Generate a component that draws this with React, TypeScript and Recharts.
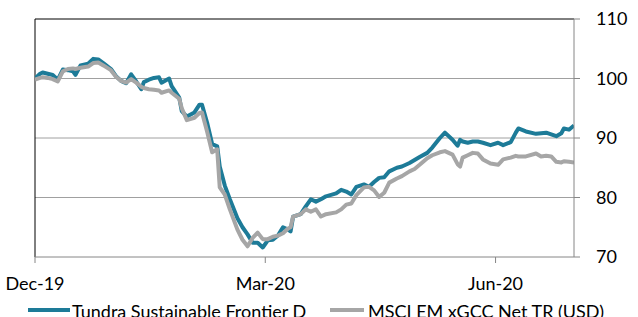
import React from 'react';
import { LineChart, Line, XAxis, YAxis, CartesianGrid, ReferenceLine } from 'recharts';

// days since 31 Dec 2019
const days = [
  0, 2, 3, 5, 7, 9, 11, 13, 15, 16, 18, 21, 23, 25, 27, 30, 32, 34, 36, 38,
  40, 42, 43, 45, 47, 49, 50, 53, 54, 57, 58, 60, 63, 65, 66, 68, 70, 72, 73, 75,
  77, 80, 82, 84, 86, 88, 90, 92, 94, 96, 98, 100, 101, 102, 105, 107, 109, 111, 113, 115,
  119, 121, 123, 125, 127, 130, 132, 134, 136, 138, 140, 143, 145, 148, 150, 152, 155, 157, 160, 162,
  165, 167, 168, 169, 171, 173, 175, 177, 180, 183, 185, 188, 190, 191, 194, 198, 200, 202, 204, 206,
  208, 209, 211, 213,
];

const tundra = [
  100, 100.8, 101, 100.8, 100.6, 99.8, 101.5, 101.4, 101.2, 100.6, 102.2, 102.5, 103.3, 103.2, 102.6, 101.6, 100.4, 99.6, 99.2, 100.7,
  99.5, 98.2, 99.4, 99.8, 100.1, 100.2, 99.3, 100, 98.7, 96.8, 94.5, 93.6, 94.3, 95.6, 95.6, 92.6, 89, 88.6, 85.2, 82,
  79.7, 76.5, 75, 73.8, 72.4, 72.4, 71.6, 72.8, 72.9, 73.6, 75, 74.6, 74.3, 76.8, 77.2, 78.5, 79.7, 79.3, 79.7, 80.2,
  80.7, 81.3, 81, 80.5, 81.8, 82.2, 81.8, 82.6, 83.3, 83.4, 84.4, 85, 85.2, 85.8, 86.3, 86.8, 87.5, 88.4, 90, 90.9,
  89.7, 88.7, 89.7, 89.4, 89.2, 89.4, 89.4, 89.2, 88.8, 89.2, 88.8, 89.3, 90.9, 91.6, 91.1, 90.7, 90.8, 90.9, 90.6, 90.3,
  90.8, 91.6, 91.4, 92.1,
];

const msci = [
  99.8, 100.1, 100.2, 100.1, 99.9, 99.5, 101.2, 101.6, 101.7, 101.6, 101.8, 102, 102.6, 102.7, 102.2, 101.4, 100.3, 99.6, 99.3, 99.9,
  99.3, 98.6, 98.4, 98.2, 98.1, 98, 97.6, 98, 97.6, 96.6, 95, 93, 93.4, 94.2, 94.3, 91.1, 87.6, 88.1, 81.7, 80.5,
  78, 74.6, 72.9, 71.8, 73.2, 74.1, 73, 73, 73.4, 73.6, 74, 74.8, 75, 76.8, 77.2, 78, 77.6, 78, 76.8, 77.2,
  77.5, 78, 78.8, 79, 80.4, 81.7, 81.8, 81.2, 80.1, 80.8, 82.5, 83.2, 83.6, 84.4, 84.8, 85.5, 86.6, 87.1, 87.6, 87.8,
  87.2, 85.6, 85.2, 86.7, 87.1, 87.5, 87.4, 86.4, 85.7, 85.5, 86.4, 86.7, 87, 86.9, 86.9, 87.4, 86.9, 87, 86.9, 86,
  85.9, 86.1, 86, 85.9,
];

const xTicks = [0, 91, 182];
const xTickLabels = ['Dec-19', 'Mar-20', 'Jun-20'];
const yTicks = [70, 80, 90, 100, 110];

const seriesNames = ['Tundra Sustainable Frontier D', 'MSCI EM xGCC Net TR (USD)'];
const TEAL = '#1d7b98';
const GREY = '#a6a6a6';
const FONT = 'Lato, "Open Sans", sans-serif';

const data = days.map((d, i) => ({ d, tundra: tundra[i], msci: msci[i] }));

export default function App() {
  return (
    <div style={{ position: 'absolute', left: 0, top: 0, width: 638, height: 317, overflow: 'hidden', background: '#fff', fontFamily: FONT }}>
      <LineChart width={638} height={317} data={data} margin={{ top: 19, right: 4, left: 35, bottom: 0 }}>
        <CartesianGrid horizontal vertical={false} stroke="#a0a0a0" horizontalValues={[80, 90, 100]} />
        <XAxis
          type="number"
          dataKey="d"
          domain={[0, 213]}
          ticks={xTicks}
          tickFormatter={(v: number) => xTickLabels[xTicks.indexOf(v)]}
          height={60}
          stroke="#868686"
          tickSize={6}
          tickMargin={14}
          tick={{ fill: '#000', fontSize: 18, fontFamily: FONT }}
          allowDataOverflow
        />
        <YAxis
          orientation="right"
          domain={[70, 110]}
          ticks={yTicks}
          width={60}
          stroke="#868686"
          tickSize={6}
          tickMargin={16}
          tick={{ fill: '#000', fontSize: 18, fontFamily: FONT, textAnchor: 'start' }}
        />
        <ReferenceLine y={110} stroke="#000" strokeWidth={1} />
        <ReferenceLine x={0} stroke="#000" strokeWidth={1} />
        <Line type="linear" dataKey="tundra" stroke={TEAL} strokeWidth={4} dot={false} isAnimationActive={false} strokeLinejoin="round" />
        <Line type="linear" dataKey="msci" stroke={GREY} strokeWidth={4} dot={false} isAnimationActive={false} strokeLinejoin="round" />
      </LineChart>
      <div style={{ position: 'absolute', left: 28, top: 308, width: 42, height: 4, background: TEAL }} />
      <div style={{ position: 'absolute', left: 72, top: 302, fontSize: 18, lineHeight: '18px', whiteSpace: 'nowrap', color: '#000' }}>{seriesNames[0]}</div>
      <div style={{ position: 'absolute', left: 330, top: 308, width: 34, height: 4, background: GREY }} />
      <div style={{ position: 'absolute', left: 368, top: 302, fontSize: 18, lineHeight: '18px', whiteSpace: 'nowrap', color: '#000' }}>{seriesNames[1]}</div>
    </div>
  );
}
